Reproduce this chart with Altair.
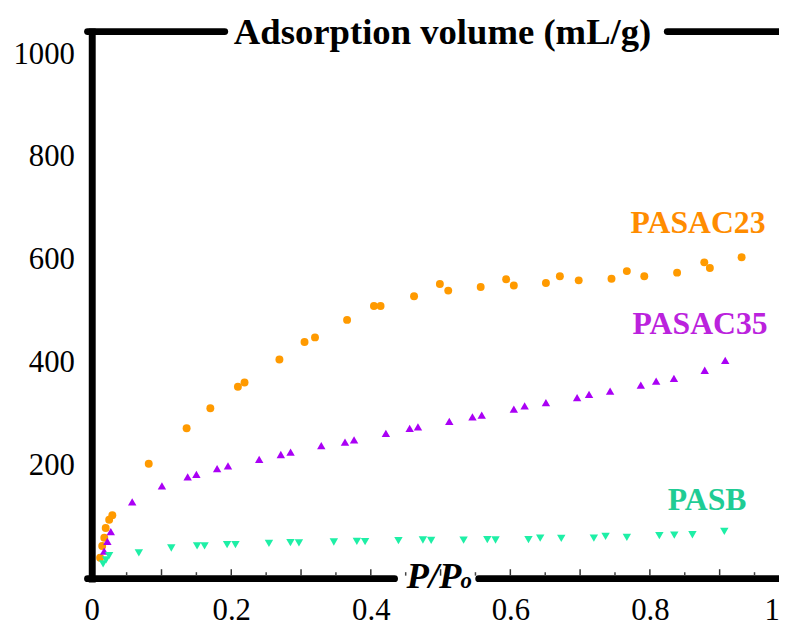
import altair as alt
import pandas as pd

# ---------------- data ----------------
pasac23_x = [0.012, 0.015, 0.018, 0.020, 0.025, 0.0295, 0.0817, 0.136, 0.170, 0.2095, 0.219,
             0.269, 0.305, 0.320, 0.366, 0.4045, 0.414, 0.462, 0.499, 0.511, 0.5575, 0.594,
             0.605, 0.651, 0.671, 0.698, 0.745, 0.767, 0.792, 0.839, 0.878, 0.886, 0.9315]
pasac23_y = [20, 43, 59, 78, 94, 103, 203, 272, 311, 353, 361,
             406, 440, 449, 483, 510, 510, 529, 553, 540, 547, 562,
             550, 555, 568, 560, 563, 578, 568, 575, 595, 584, 605]

pasac35_x = [0.0178, 0.0224, 0.0273, 0.058, 0.1006, 0.1375, 0.150, 0.1797, 0.1953, 0.240,
             0.271, 0.285, 0.329, 0.363, 0.376, 0.4216, 0.4557, 0.4676, 0.5125, 0.5457,
             0.559, 0.605, 0.6205, 0.651, 0.6957, 0.7128, 0.743, 0.787, 0.809, 0.8345,
             0.8786, 0.908]
pasac35_y = [33, 52, 71, 129, 160, 177.5, 182.5, 193.5, 198.7, 211.4,
             221, 225.7, 238.4, 245, 249.4, 262.3, 272, 275, 285.5, 294.4,
             297.6, 309.2, 315.6, 322, 331.8, 338, 344.5, 356, 364, 369,
             385, 404.3]

pasb_x = [0.0163, 0.0206, 0.0249, 0.0675, 0.114, 0.151, 0.1617, 0.194, 0.206, 0.254,
          0.2848, 0.297, 0.347, 0.380, 0.3918, 0.4396, 0.4747, 0.4865, 0.533, 0.567,
          0.5788, 0.626, 0.6428, 0.673, 0.7197, 0.7365, 0.767, 0.8136, 0.835, 0.861,
          0.9067]
pasb_y = [8, 16, 24, 29.5, 39, 43, 43, 45.5, 45.5, 48,
          49.4, 48.8, 50.7, 52, 51.5, 53.2, 54.6, 54, 54.2, 55.2,
          54.6, 55.2, 58.4, 57.9, 58.4, 61.7, 59.8, 62.9, 64.2, 64.8,
          71.4]

series_names = ["PASAC23", "PASAC35", "PASB"]
label_x = [0.869, 0.872, 0.882]
label_y = [652, 456, 113]

x_tick_values = [0, 0.2, 0.4, 0.6, 0.8, 1]
y_tick_values = [200, 400, 600, 800, 1000]
minor_ticks = [0.05, 0.15, 0.25, 0.35, 0.45, 0.55, 0.65, 0.75, 0.85, 0.95]
major_ticks = [0.1, 0.2, 0.3, 0.4, 0.5, 0.6, 0.7, 0.8, 0.9]

title_text = "Adsorption volume (mL/g)"
xtitle_main = "P/P"
xtitle_sub = "o"

# frame segments (interrupted by the titles), in x data units
top_seg_x = [-0.006, 0.825]
top_seg_x2 = [0.1906, 0.995]
bot_seg_x = [-0.006, 0.5547]
bot_seg_x2 = [0.434, 0.995]

# ---------------- styling ----------------
FONT = "Liberation Serif"
marker_colors = ["#FF9A00", "#AA00F5", "#1EEFA6"]
text_colors = ["#FF8C00", "#BB22DD", "#1FCC94"]

W = 693.5
H = 552
Y_MIN, Y_MAX = -20.6, 1044.2

# full 0..1 domain mapped onto 704 px; the view is cut at 693.5 px like the reference
x_scale = alt.Scale(domain=[0, 1], range=[0, 704], nice=False, zero=False)
y_scale = alt.Scale(domain=[Y_MIN, Y_MAX], nice=False, zero=False)

x_axis = alt.Axis(values=x_tick_values, format="~g", title=None, domain=False, ticks=False,
                  tickSize=0, grid=False, labelFont=FONT, labelFontSize=31, labelColor="black",
                  labelFontWeight="normal", labelPadding=17, labelFlush=False, labelOverlap=False,
                  labelOffset={"condition": {"test": "datum.value == 1", "value": -18}, "value": 0})
y_axis = alt.Axis(values=y_tick_values, format="d", title=None, domain=True, domainColor="black",
                  domainWidth=7, domainCap="square", ticks=False, tickSize=0, grid=False,
                  labelFont=FONT, labelFontSize=31, labelColor="black", labelFontWeight="normal",
                  labelPadding=17.5, labelFlush=False, labelOverlap=False)

def series_layer(xs, ys, color, shape, size):
    df = pd.DataFrame({"x": xs, "y": ys})
    return alt.Chart(df).mark_point(filled=True, shape=shape, size=size, color=color,
                                    opacity=1, strokeWidth=0).encode(
        x=alt.X("x:Q", scale=x_scale, axis=x_axis),
        y=alt.Y("y:Q", scale=y_scale, axis=y_axis),
    )

l23 = series_layer(pasac23_x, pasac23_y, marker_colors[0], "circle", 64)
l35 = series_layer(pasac35_x, pasac35_y, marker_colors[1], "triangle-up", 72)
lb = series_layer(pasb_x, pasb_y, marker_colors[2], "triangle-down", 72)

top_df = pd.DataFrame({"x": top_seg_x, "x2": top_seg_x2})
bot_df = pd.DataFrame({"x": bot_seg_x, "x2": bot_seg_x2})
top_rule = alt.Chart(top_df).mark_rule(color="black", strokeWidth=7, strokeCap="round").encode(
    x=alt.X("x:Q", scale=x_scale), x2="x2:Q", y=alt.value(0))
bot_rule = alt.Chart(bot_df).mark_rule(color="black", strokeWidth=7, strokeCap="round").encode(
    x=alt.X("x:Q", scale=x_scale), x2="x2:Q", y=alt.value(H))

minor_df = pd.DataFrame({"x": minor_ticks})
major_df = pd.DataFrame({"x": major_ticks})
minor_rule = alt.Chart(minor_df).mark_rule(color="#444444", strokeWidth=1.5).encode(
    x=alt.X("x:Q", scale=x_scale), y=alt.value(H - 3), y2=alt.value(H - 6.5))
major_rule = alt.Chart(major_df).mark_rule(color="#333333", strokeWidth=1.5).encode(
    x=alt.X("x:Q", scale=x_scale), y=alt.value(H - 3), y2=alt.value(H - 9.5))

lab_df = pd.DataFrame({"name": series_names, "x": label_x, "y": label_y})
labels = alt.Chart(lab_df).mark_text(font=FONT, fontSize=32, fontWeight="bold", align="center",
                                     baseline="alphabetic").encode(
    x=alt.X("x:Q", scale=x_scale), y=alt.Y("y:Q", scale=y_scale), text="name:N",
    color=alt.Color("name:N", scale=alt.Scale(domain=series_names, range=text_colors), legend=None))

title = alt.Chart(pd.DataFrame({"t": [title_text]})).mark_text(
    font=FONT, fontSize=37, fontWeight="bold", align="center", baseline="alphabetic",
    color="black").encode(x=alt.value(354), y=alt.value(13), text="t:N")

xt_main = alt.Chart(pd.DataFrame({"t": [xtitle_main]})).mark_text(
    font=FONT, fontSize=37, fontWeight="bold", fontStyle="italic", align="right",
    baseline="alphabetic", color="black").encode(x=alt.value(373), y=alt.value(561), text="t:N")
xt_sub = alt.Chart(pd.DataFrame({"t": [xtitle_sub]})).mark_text(
    font=FONT, fontSize=23, fontWeight="bold", fontStyle="italic", align="left",
    baseline="alphabetic", color="black").encode(x=alt.value(372), y=alt.value(561), text="t:N")

chart = alt.layer(
    l23, l35, lb, top_rule, bot_rule, minor_rule, major_rule, labels, title, xt_main, xt_sub
).properties(
    width=W, height=H,
    autosize=alt.AutoSizeParams(type="none"),
    padding={"left": 84.5, "top": 21, "right": 0, "bottom": 46},
    background="white",
).configure_view(stroke=None)

chart.save("out.html", embed_options={"renderer": "svg", "actions": False})
